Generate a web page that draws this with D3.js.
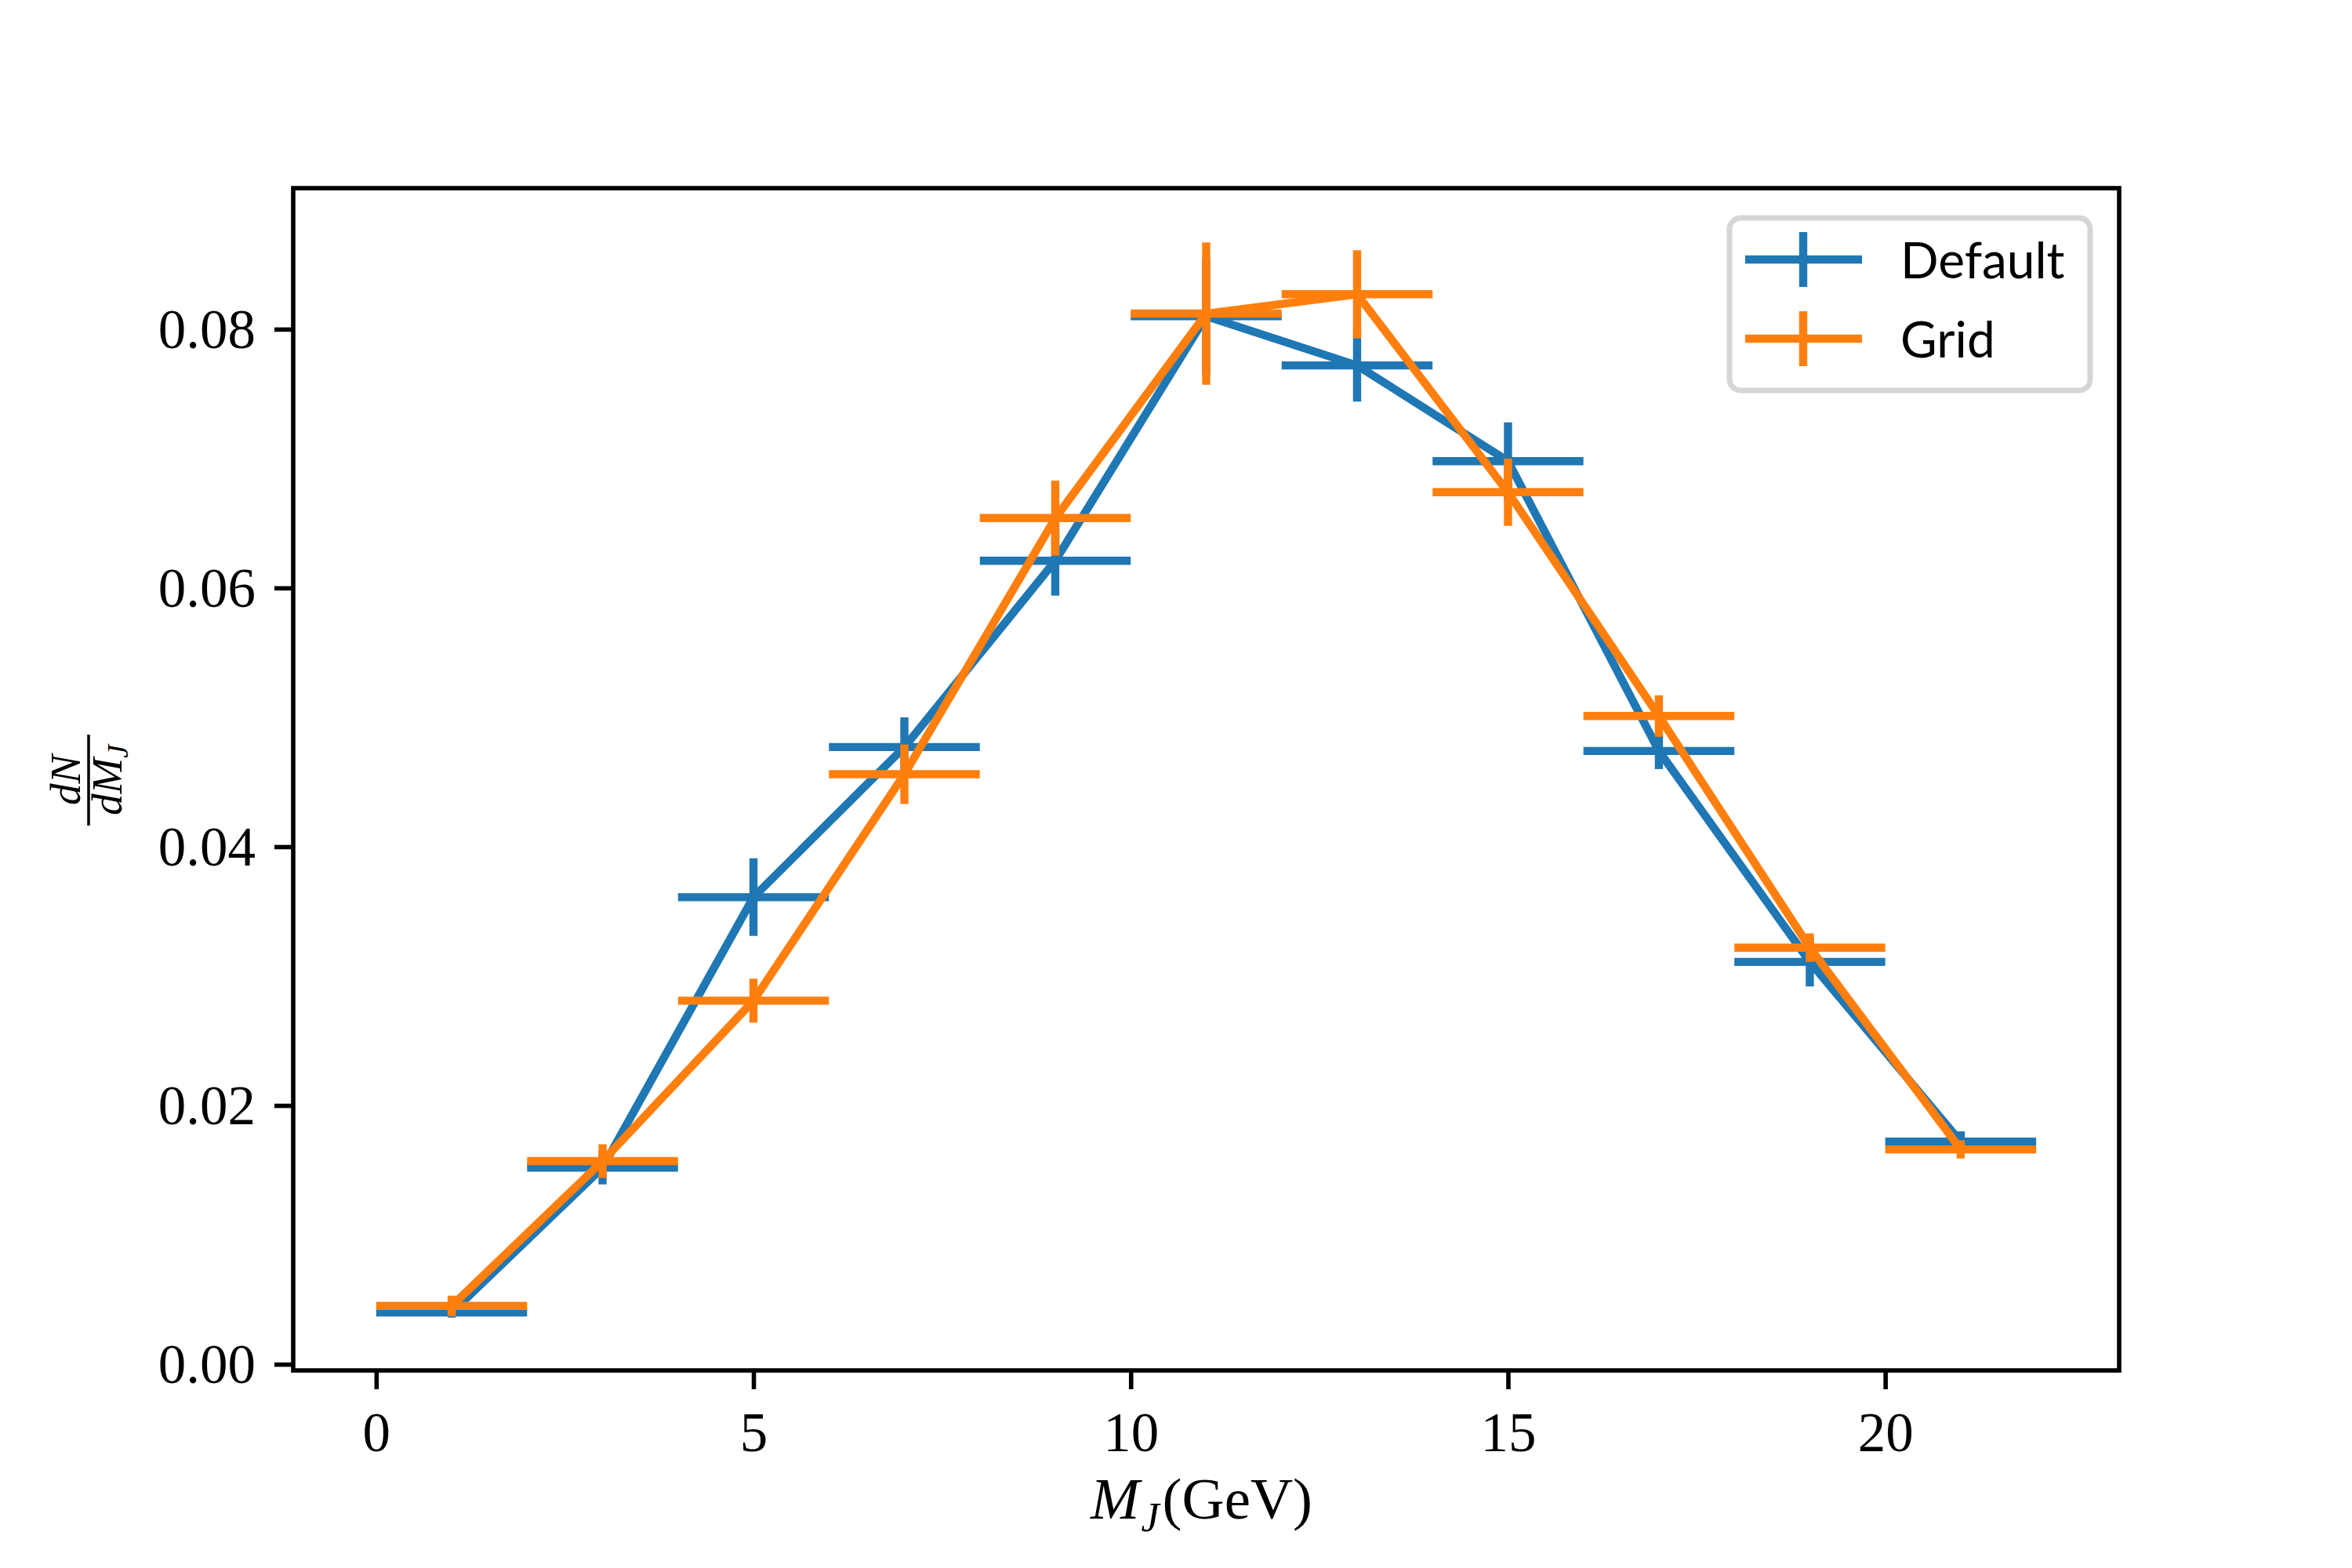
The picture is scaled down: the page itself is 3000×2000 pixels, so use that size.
<!DOCTYPE html>
<html>
<head>
<meta charset="utf-8">
<script src="https://cdn.jsdelivr.net/npm/d3@7"></script>
<style>
  body { margin: 0; background: #fff; }
  svg { display: block; }
</style>
</head>
<body>
<div id="chart"></div>
<script>
// bin centres (GeV), half bin width used as x error
const binCentres = [1, 3, 5, 7, 9, 11, 13, 15, 17, 19, 21];
const binHalfWidth = 1;

const defaultVals = [0.0040, 0.0152, 0.0361, 0.0477, 0.0621, 0.0810, 0.0772, 0.0698, 0.0474, 0.0311, 0.0172];
const defaultErr  = [0.0004, 0.0013, 0.0030, 0.0023, 0.0027, 0.0045, 0.0028, 0.0030, 0.0014, 0.0019, 0.0008];
const gridVals    = [0.0045, 0.0157, 0.0281, 0.0456, 0.0654, 0.0812, 0.0827, 0.0674, 0.0501, 0.0322, 0.0166];
const gridErr     = [0.0008, 0.0013, 0.0017, 0.0023, 0.0029, 0.0055, 0.0034, 0.0026, 0.0016, 0.0011, 0.0007];

const seriesNames = ["Default", "Grid"];
const seriesColors = ["#1f77b4", "#ff7f0e"];
const xTicks = [0, 5, 10, 15, 20];
const yTicks = [0, 0.02, 0.04, 0.06, 0.08];

const W = 3000, H = 2000;
const axLeft = 374, axRight = 2703, axTop = 240, axBottom = 1748;
const lw = 10.4;      // 1.5pt at 500 dpi
const spineW = 5.6;   // 0.8pt
const serif = "'Liberation Serif', 'DejaVu Serif', serif";

const svg = d3.select("#chart")
              .append("svg")
              .attr("width", W)
              .attr("height", H);

const xScale = d3.scaleLinear().domain([-1.1, 23.1]).range([axLeft, axRight]);
const yScale = d3.scaleLinear().domain([-0.00048, 0.0909]).range([axBottom, axTop]);

const series = [
    {name: seriesNames[0], color: seriesColors[0], vals: defaultVals, err: defaultErr},
    {name: seriesNames[1], color: seriesColors[1], vals: gridVals, err: gridErr}
];

const plot = svg.append("g");

const line = d3.line()
               .x(d => xScale(d.x))
               .y(d => yScale(d.y));

series.forEach(s => {
    const pts = binCentres.map((x, i) => ({x: x, y: s.vals[i], e: s.err[i]}));
    const g = plot.append("g");
    g.append("path")
        .attr("d", line(pts))
        .attr("fill", "none")
        .attr("stroke", s.color)
        .attr("stroke-width", lw)
        .attr("stroke-linejoin", "round");
    // vertical error bars
    g.selectAll(".ey")
        .data(pts)
        .enter()
        .append("line")
        .attr("x1", d => xScale(d.x))
        .attr("x2", d => xScale(d.x))
        .attr("y1", d => yScale(d.y - d.e))
        .attr("y2", d => yScale(d.y + d.e))
        .attr("stroke", s.color)
        .attr("stroke-width", lw);
    // horizontal bin bars
    g.selectAll(".ex")
        .data(pts)
        .enter()
        .append("line")
        .attr("x1", d => xScale(d.x - binHalfWidth))
        .attr("x2", d => xScale(d.x + binHalfWidth))
        .attr("y1", d => yScale(d.y))
        .attr("y2", d => yScale(d.y))
        .attr("stroke", s.color)
        .attr("stroke-width", lw);
});

// axes
const xAxis = d3.axisBottom(xScale).tickValues(xTicks).tickSize(24).tickPadding(24).tickFormat(d3.format("d"));
const yAxis = d3.axisLeft(yScale).tickValues(yTicks).tickSize(24).tickPadding(24).tickFormat(d3.format(".2f"));

const xg = svg.append("g")
              .attr("transform", `translate(0,${axBottom})`)
              .call(xAxis);
const yg = svg.append("g")
              .attr("transform", `translate(${axLeft},0)`)
              .call(yAxis);

[xg, yg].forEach(g => {
    g.select(".domain").remove();
    g.selectAll(".tick line").attr("stroke", "#000").attr("stroke-width", spineW);
    g.selectAll(".tick text")
        .attr("fill", "#000")
        .style("font-family", serif)
        .style("font-size", "71px");
});
xg.selectAll(".tick text").attr("dy", null).attr("y", 1851 - axBottom);
yg.selectAll(".tick text").attr("dy", "0.33em");

// frame
svg.append("rect")
    .attr("x", axLeft)
    .attr("y", axTop)
    .attr("width", axRight - axLeft)
    .attr("height", axBottom - axTop)
    .attr("fill", "none")
    .attr("stroke", "#000")
    .attr("stroke-width", spineW);

// x label: M_J(GeV)
const xl = svg.append("text")
    .attr("x", (axLeft + axRight) / 2 - 6)
    .attr("y", 1937)
    .attr("text-anchor", "middle")
    .style("font-family", serif)
    .style("font-size", "75px");
xl.append("tspan").style("font-style", "italic").text("M");
xl.append("tspan").style("font-style", "italic").style("font-size", "52px").attr("dx", 2).attr("dy", 16).text("J");
xl.append("tspan").attr("dx", 4).attr("dy", -16).text("(GeV)");

// y label: dN / dM_J as a fraction
const yl = svg.append("g")
    .attr("transform", "translate(113,995) rotate(-90)")
    .style("font-family", serif);
yl.append("text")
    .attr("x", 0)
    .attr("y", -11)
    .attr("text-anchor", "middle")
    .style("font-style", "italic")
    .style("font-size", "55px")
    .text("dN");
yl.append("line")
    .attr("x1", -58).attr("x2", 58)
    .attr("y1", 0).attr("y2", 0)
    .attr("stroke", "#000")
    .attr("stroke-width", 3.5);
const den = yl.append("text")
    .attr("x", 0)
    .attr("y", 42)
    .attr("text-anchor", "middle")
    .style("font-style", "italic")
    .style("font-size", "55px");
den.append("tspan").text("dM");
den.append("tspan").style("font-size", "38px").attr("dy", 8).text("J");

// legend
const lg = svg.append("g");
lg.append("rect")
    .attr("x", 2206)
    .attr("y", 278)
    .attr("width", 460)
    .attr("height", 220)
    .attr("rx", 14)
    .attr("fill", "#fff")
    .attr("fill-opacity", 0.8)
    .attr("stroke", "#d6d6d6")
    .attr("stroke-width", 7);

series.forEach((s, i) => {
    const cy = 331 + i * 101;
    lg.append("line")
        .attr("x1", 2226).attr("x2", 2375)
        .attr("y1", cy).attr("y2", cy)
        .attr("stroke", s.color).attr("stroke-width", lw);
    lg.append("line")
        .attr("x1", 2300).attr("x2", 2300)
        .attr("y1", cy - 35).attr("y2", cy + 35)
        .attr("stroke", s.color).attr("stroke-width", lw);
    lg.append("text")
        .attr("x", 2424)
        .attr("y", cy + 24)
        .style("font-family", "Lato, 'Open Sans', sans-serif")
        .style("font-size", "64px")
        .attr("fill", "#000")
        .text(s.name);
});
</script>
</body>
</html>
